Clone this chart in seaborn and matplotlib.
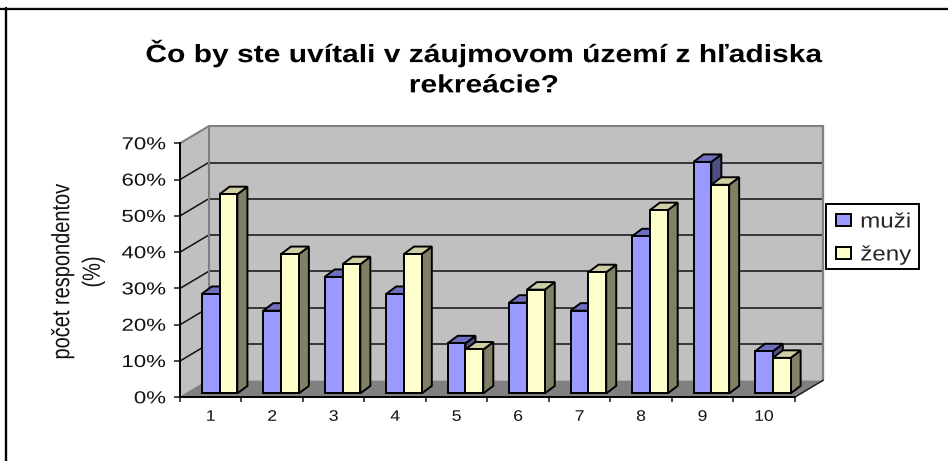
"""Grouped 3D-look bar chart: recreation attitudes by gender."""
import matplotlib
matplotlib.use("Agg")
import matplotlib.pyplot as plt
import pandas as pd
import seaborn as sns
from matplotlib.lines import Line2D
from matplotlib.patches import Polygon
from matplotlib.patheffects import AbstractPathEffect
from matplotlib.ticker import PercentFormatter
from matplotlib.transforms import Affine2D, IdentityTransform

TITLE = "Čo by ste uvítali v záujmovom území z hľadiska\nrekreácie?"
YLABEL = "počet respondentov\n(%)"
CATEGORIES = ["1", "2", "3", "4", "5", "6", "7", "8", "9", "10"]
MUZI = [27.4, 22.8, 32.1, 27.4, 13.8, 25.0, 22.8, 43.3, 63.8, 11.6]
ZENY = [54.9, 38.4, 35.6, 38.4, 12.1, 28.6, 33.4, 50.5, 57.5, 9.8]
SERIES = ["muži", "ženy"]
Y_TICKS = [0, 10, 20, 30, 40, 50, 60, 70]

FRONT = {"muži": "#9999FF", "ženy": "#FFFFCC"}
TOP = {"muži": "#6F6FBF", "ženy": "#CFCFA6"}
SIDE = {"muži": "#4F4F86", "ženy": "#808066"}

W, H = 948, 461
WALL_DX, WALL_DY = 28.5, 17      # depth of the chart box, px
BAR_DX, BAR_DY = 8.85, 3.9       # bars stand a little inside the floor
DEPTH_DX, DEPTH_DY = 10, 7.5     # depth of one bar


class Stretch(AbstractPathEffect):
    """Widen or narrow a text line along its own direction."""

    def __init__(self, sx, anchor=0.5):
        super().__init__()
        self.sx = sx
        self.anchor = anchor

    def draw_path(self, renderer, gc, tpath, affine, rgbFace=None):
        box = tpath.get_extents()
        fix = box.x0 + self.anchor * box.width
        squeeze = Affine2D().translate(-fix, 0).scale(self.sx, 1).translate(fix, 0)
        renderer.draw_path(gc, tpath, squeeze + affine, rgbFace)


# ── Table ─────────────────────────────────────────────────────────────────────
df = pd.DataFrame({
    "otazka": CATEGORIES * 2,
    "pohlavie": [SERIES[0]] * len(MUZI) + [SERIES[1]] * len(ZENY),
    "podiel": MUZI + ZENY,
})

sns.set_theme(style="white")
plt.rcParams["font.family"] = ["Liberation Sans", "DejaVu Sans"]

fig = plt.figure(figsize=(W / 100, H / 100), dpi=100, facecolor="white")
ax = fig.add_axes([180 / W, 1 - 397.3 / H, 614.7 / W, 254 / H])
ax.patch.set_visible(False)

sns.barplot(data=df, x="otazka", y="podiel", hue="pohlavie", order=CATEGORIES,
            palette=FRONT, width=0.58, gap=0, saturation=1,
            edgecolor="black", linewidth=1.4, ax=ax)
x0, x1 = -0.5, len(CATEGORIES) - 0.5
y_max = Y_TICKS[-1]
ax.set_xlim(x0, x1)
ax.set_ylim(0, y_max)
ax.set_xlabel("")
ax.set_ylabel("")


def pt(x, y, dx=0.0, dy=0.0):
    px, py = ax.transData.transform((x, y))
    return (px + dx, py + dy)


def poly(points, color, z, edge="none"):
    ax.add_patch(Polygon(points, closed=True, facecolor=color, edgecolor=edge,
                         linewidth=1.4, joinstyle="miter", clip_on=False,
                         transform=IdentityTransform(), zorder=z))


def seg(a, b, color, lw, z=1.5):
    ax.add_line(Line2D([a[0], b[0]], [a[1], b[1]], color=color, linewidth=lw,
                       clip_on=False, transform=IdentityTransform(), zorder=z))


# ── Walls and floor ───────────────────────────────────────────────────────────
poly([pt(x0, 0, WALL_DX, WALL_DY), pt(x1, 0, WALL_DX, WALL_DY),
      pt(x1, y_max, WALL_DX, WALL_DY), pt(x0, y_max, WALL_DX, WALL_DY)], "#C0C0C0", 1)
poly([pt(x0, 0), pt(x0, 0, WALL_DX, WALL_DY),
      pt(x0, y_max, WALL_DX, WALL_DY), pt(x0, y_max)], "#C0C0C0", 1)
poly([pt(x0, 0), pt(x1, 0), pt(x1, 0, WALL_DX, WALL_DY), pt(x0, 0, WALL_DX, WALL_DY)], "#808080", 1.1)

for v in Y_TICKS[1:-1]:
    seg(pt(x0, v, WALL_DX, WALL_DY), pt(x1, v, WALL_DX, WALL_DY), "#111111", 1.1)
    seg(pt(x0, v), pt(x0, v, WALL_DX, WALL_DY), "#111111", 1.1)
seg(pt(x0, 0, WALL_DX, WALL_DY), pt(x0, y_max, WALL_DX, WALL_DY), "#808080", 1.5, 1.6)
seg(pt(x1, 0, WALL_DX, WALL_DY), pt(x1, y_max, WALL_DX, WALL_DY), "#808080", 1.7, 1.6)
seg(pt(x0, y_max), pt(x0, y_max, WALL_DX, WALL_DY), "#808080", 1.5, 1.6)
seg(pt(x0, y_max, WALL_DX, WALL_DY), pt(x1, y_max, WALL_DX, WALL_DY), "#808080", 1.5, 1.6)
seg(pt(x1, 0), pt(x1, 0, WALL_DX, WALL_DY), "#111111", 1.0, 1.6)
seg(pt(x0, 0), pt(x0, 0, WALL_DX, WALL_DY), "#808080", 1.0, 1.6)

# ── Bars: seaborn front faces get a side and a top ────────────────────────────
shift = Affine2D().translate(BAR_DX, BAR_DY)
for i, (name, container) in enumerate(zip(SERIES, ax.containers)):
    for bar in container:
        bar.set_transform(ax.transData + shift)
        bar.set_clip_on(False)
        bar.set_zorder(4 + 2 * i)
        a = bar.get_x()
        b = a + bar.get_width()
        t = bar.get_height()
        ox, oy = BAR_DX, BAR_DY
        front_r_low = pt(b, 0, ox, oy)
        front_r_top = pt(b, t, ox, oy)
        front_l_top = pt(a, t, ox, oy)
        back_r_low = (front_r_low[0] + DEPTH_DX, front_r_low[1] + DEPTH_DY)
        back_r_top = (front_r_top[0] + DEPTH_DX, front_r_top[1] + DEPTH_DY)
        back_l_top = (front_l_top[0] + DEPTH_DX, front_l_top[1] + DEPTH_DY)
        poly([front_r_low, back_r_low, back_r_top, front_r_top], SIDE[name], 3 + 2 * i, "black")
        poly([front_l_top, front_r_top, back_r_top, back_l_top], TOP[name], 3 + 2 * i, "black")

# ── Axes ──────────────────────────────────────────────────────────────────────
sns.despine(ax=ax)
for side in ("left", "bottom"):
    ax.spines[side].set_color("black")
    ax.spines[side].set_linewidth(1.4)
ax.set_yticks(Y_TICKS)
ax.yaxis.set_major_formatter(PercentFormatter(decimals=0))
ax.tick_params(axis="y", which="major", left=True, length=4.2, width=1.2, pad=6,
               labelsize=12.5, labelcolor="#111111")
ax.set_xticks(range(len(CATEGORIES)))
ax.set_xticklabels(CATEGORIES)
ax.tick_params(axis="x", which="major", bottom=False, length=0, pad=9,
               labelsize=11, labelcolor="#111111")
ax.set_xticks([x0 + k for k in range(len(CATEGORIES) + 1)], minor=True)
ax.tick_params(axis="x", which="minor", bottom=True, length=3.8, width=1.2)

# ── Text, legend, frame ───────────────────────────────────────────────────────
fig.text(484 / W, 1 - 68 / H, TITLE, ha="center", va="center", fontsize=18,
         fontweight="bold", color="black", linespacing=1.33, multialignment="center",
         path_effects=[Stretch(1.2)])
fig.text(77.5 / W, 1 - 272 / H, YLABEL, rotation=90, ha="center", va="center",
         fontsize=18, color="#111111", linespacing=1.35, multialignment="center",
         path_effects=[Stretch(0.8)])

sns.move_legend(ax, loc="upper left", bbox_to_anchor=(836 / W, 1 - 212.5 / H),
                bbox_transform=fig.transFigure, title=None, frameon=False,
                fontsize=15, handlelength=0.72, handleheight=0.55, handletextpad=0.45,
                labelspacing=0.67, borderpad=0, borderaxespad=0)
legend = ax.get_legend()
legend.set_zorder(20)
for text in legend.get_texts():
    text.set_path_effects([Stretch(1.16, anchor=0)])
# legend box is taller-than-rows tight in the original, so the frame is separate
poly([(826, H - 204), (919, H - 204), (919, H - 269), (826, H - 269)], "white", 19, "black")

fig.add_artist(Line2D([0, 1], [1 - 9.2 / H] * 2, color="black", linewidth=1.6))
fig.add_artist(Line2D([0, 1], [1 - 7.2 / H] * 2, color="#D8D8D8", linewidth=0.8))
fig.add_artist(Line2D([6.2 / W] * 2, [0, 1 - 8.5 / H], color="black", linewidth=1.7))

fig.canvas.draw()
for label in ax.get_yticklabels():
    label.set_path_effects([Stretch(1.28, anchor=1)])
for label in ax.get_xticklabels():
    label.set_path_effects([Stretch(1.15)])

fig.savefig("out.png", dpi=100)
